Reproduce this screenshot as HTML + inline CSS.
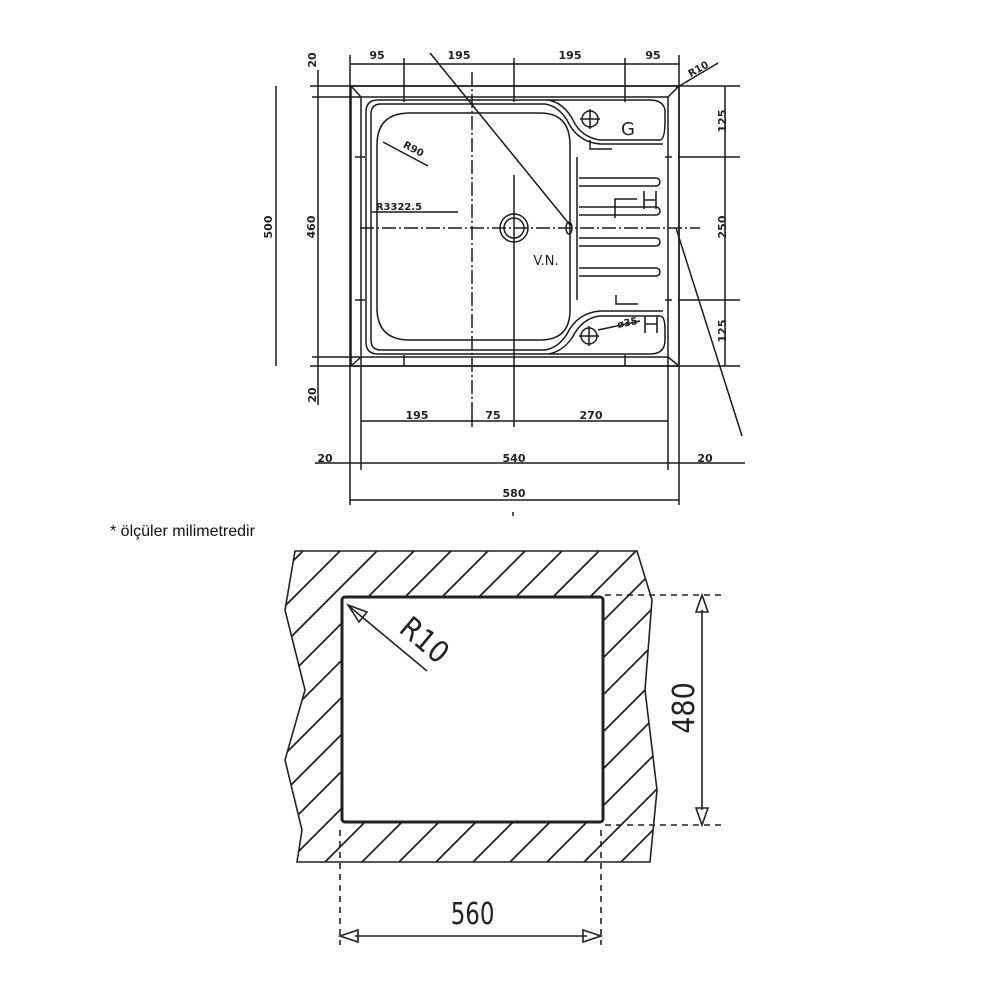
<!DOCTYPE html>
<html><head><meta charset="utf-8"><style>
html,body{margin:0;padding:0;background:#fff;}
svg{display:block}
.t{font-family:"DejaVu Sans","Liberation Sans",sans-serif;font-weight:bold;font-size:11px;fill:#222}
</style></head><body>
<svg width="1000" height="1000" viewBox="0 0 1000 1000" xmlns="http://www.w3.org/2000/svg">
<defs>
<clipPath id="hc"><path clip-rule="evenodd" d="M295 551 L637 551 L652 600 L645 690 L657 790 L650 862 L297 862 L302 830 L285 760 L305 690 L285 610 Z M342 597 L603 597 L603 822 L342 822 Z"/></clipPath>
</defs>
<g stroke="#1a1a1a" fill="none" stroke-width="1.5">
<line x1="350" y1="64" x2="679" y2="64"/>
<line x1="350" y1="55" x2="350" y2="505"/><line x1="679" y1="55" x2="679" y2="505"/>
<line x1="404" y1="58" x2="404" y2="102"/><line x1="514" y1="58" x2="514" y2="102"/><line x1="625" y1="58" x2="625" y2="102"/>
<line x1="310" y1="86" x2="740" y2="86"/><line x1="310" y1="366" x2="740" y2="366"/>
<line x1="312" y1="97" x2="360" y2="97"/><line x1="312" y1="357" x2="360" y2="357"/>
<line x1="276" y1="86" x2="276" y2="366"/><line x1="318" y1="70" x2="318" y2="405"/>
<line x1="725" y1="86" x2="725" y2="366"/>
<line x1="678" y1="157" x2="740" y2="157"/><line x1="678" y1="300" x2="740" y2="300"/>
<line x1="665" y1="157" x2="672" y2="157"/><line x1="665" y1="300" x2="672" y2="300"/>
<line x1="355" y1="157" x2="365" y2="157"/><line x1="355" y1="300" x2="365" y2="300"/>
<line x1="430" y1="53" x2="570" y2="225"/>
<line x1="676" y1="88" x2="718" y2="63"/>
<line x1="676" y1="228" x2="742" y2="436"/>
<line x1="383" y1="142" x2="428" y2="166"/>
<line x1="372" y1="212" x2="458" y2="212"/>
<line x1="598" y1="330" x2="640" y2="321"/>
<path d="M351 86 L679 86 L679 366 L351 366 Z"/>
<path d="M351 86 L361 97 M679 86 L668 97 M351 366 L361 357 M679 366 L668 357"/>
<path d="M361 97 L668 97 L668 357 L361 357 Z"/>
<path d="M378 100 L548 100 Q562 102 572 118 Q580 137 600 140 L660 140 Q665 140 665 120 L665 110 Q663 100 650 100 L378 100 Q366 100 366 112 L366 342 Q366 354 378 354 L650 354 Q665 354 665 340 L665 330 Q665 316 660 316 L600 316 Q582 318 572 338 Q562 352 548 354"/>
<path d="M381 104 L545 104 Q558 106 567 120 Q577 142 600 144 L663 144 M381 104 Q371 104 371 114 L371 340 Q371 350 381 350 L545 350 Q558 348 567 334 Q577 313 600 311 L663 311"/>
<path d="M410 113 L540 113 Q570 113 570 145 L570 310 Q570 340 540 340 L410 340 Q377 340 377 308 L377 145 Q377 113 410 113 Z"/>
<line x1="577" y1="157" x2="577" y2="300"/>
<path d="M579 178 L656 178 A4 4 0 0 1 656 186 L579 186 M579 207 L656 207 A4 4 0 0 1 656 215 L579 215 M579 238 L656 238 A4 4 0 0 1 656 246 L579 246 M579 268 L656 268 A4 4 0 0 1 656 276 L579 276"/>
<circle cx="514" cy="228" r="14"/><circle cx="514" cy="228" r="10"/>
<ellipse cx="569" cy="228" rx="3" ry="6"/>
<circle cx="590" cy="119" r="8"/><path d="M580 119 L600 119 M590 109 L590 129"/>
<circle cx="589" cy="336" r="8"/><path d="M579 336 L599 336 M589 326 L589 346"/>
<path d="M590 140 L590 149 L612 149 M615 218 L615 199 L637 199 M616 295 L616 304 L638 304"/>
<line x1="361" y1="357" x2="361" y2="470"/><line x1="668" y1="357" x2="668" y2="470"/>
<line x1="361" y1="421" x2="668" y2="421"/>
<line x1="472" y1="408" x2="472" y2="427"/><line x1="514" y1="175" x2="514" y2="427"/>
<line x1="315" y1="463" x2="745" y2="463"/>
<line x1="350" y1="500" x2="679" y2="500"/>
<line x1="513" y1="512" x2="513" y2="516"/>
<line x1="404" y1="355" x2="404" y2="366"/><line x1="625" y1="355" x2="625" y2="366"/>
<line x1="360" y1="228" x2="700" y2="228" stroke-dasharray="14 3 2 3"/>
<line x1="472" y1="72" x2="472" y2="408" stroke-dasharray="14 3 2 3"/>
</g>
<g class="t" text-anchor="middle">
<text x="377" y="59">95</text><text x="459" y="59">195</text><text x="570" y="59">195</text><text x="653" y="59">95</text>
<text x="417" y="419">195</text><text x="493" y="419">75</text><text x="591" y="419">270</text>
<text x="325" y="462">20</text><text x="514" y="462">540</text><text x="705" y="462">20</text>
<text x="514" y="497">580</text>
<text transform="translate(316,60) rotate(-90)">20</text>
<text transform="translate(316,395) rotate(-90)">20</text>
<text transform="translate(272,227) rotate(-90)">500</text>
<text transform="translate(315,227) rotate(-90)">460</text>
<text transform="translate(726,121) rotate(-90)">125</text>
<text transform="translate(726,227) rotate(-90)">250</text>
<text transform="translate(726,331) rotate(-90)">125</text>
<text transform="translate(700,72) rotate(-30)" style="font-size:10px">R10</text>
<text transform="translate(412,152) rotate(28)" style="font-size:10px">R90</text>
<text x="399" y="210" style="font-size:10px">R3322.5</text>
<text x="546" y="265" style="font-weight:normal;font-size:13px">V.N.</text>
<text x="628" y="135" style="font-weight:normal;font-size:18px">G</text>
<text x="628" y="326" transform="rotate(-12 628 326)" style="font-size:10px">ø35</text>
</g>
<g stroke="#222" stroke-width="1.6" fill="none">
<path d="M644 191 L644 209 M656 191 L656 209 M644 200 L656 200"/>
<path d="M645 316 L645 333 M657 316 L657 333 M645 324 L657 324"/>
</g>
<text x="110" y="536" style="font-family:'Liberation Sans',sans-serif;font-size:16px;fill:#111">* ölçüler milimetredir</text>
<g clip-path="url(#hc)" stroke="#222" stroke-width="1.8">
<line x1="140" y1="862" x2="451" y2="551"/><line x1="177" y1="862" x2="488" y2="551"/><line x1="214" y1="862" x2="525" y2="551"/><line x1="251" y1="862" x2="562" y2="551"/><line x1="288" y1="862" x2="599" y2="551"/><line x1="325" y1="862" x2="636" y2="551"/><line x1="362" y1="862" x2="673" y2="551"/><line x1="399" y1="862" x2="710" y2="551"/><line x1="436" y1="862" x2="747" y2="551"/><line x1="473" y1="862" x2="784" y2="551"/><line x1="510" y1="862" x2="821" y2="551"/><line x1="547" y1="862" x2="858" y2="551"/><line x1="584" y1="862" x2="895" y2="551"/><line x1="621" y1="862" x2="932" y2="551"/><line x1="103" y1="862" x2="414" y2="551"/><line x1="66" y1="862" x2="377" y2="551"/><line x1="29" y1="862" x2="340" y2="551"/><line x1="-8" y1="862" x2="303" y2="551"/>
</g>
<g stroke="#222" fill="none" stroke-width="1.6">
<path d="M295 551 L637 551 L652 600 L645 690 L657 790 L650 862 L297 862 L302 830 L285 760 L305 690 L285 610 Z"/>
<rect x="342" y="597" width="261" height="225" rx="3" stroke-width="3"/>
<path d="M605 595 L725 595 M605 825 L725 825 M340 830 L340 945 M601 830 L601 945" stroke-dasharray="6 5"/>
<line x1="702" y1="610" x2="702" y2="810"/>
<path d="M702 595 L696 612 L708 612 Z M702 825 L696 808 L708 808 Z"/>
<line x1="355" y1="936" x2="587" y2="936"/>
<path d="M340 936 L358 930 L358 942 Z M601 936 L583 930 L583 942 Z"/>
<line x1="350" y1="607" x2="427" y2="671"/>
<path d="M348 605 L367 612 L359 622 Z"/>
</g>
<g style="font-family:'DejaVu Sans Condensed','Liberation Sans Narrow',sans-serif;font-size:30px;fill:#222" text-anchor="middle">
<text x="473" y="924" transform="scale(0.85 1) translate(83 0)">560</text>
<text transform="translate(694,708) rotate(-90)">480</text>
<text transform="translate(418,648) rotate(40)">R10</text>
</g>
</svg>
</body></html>
